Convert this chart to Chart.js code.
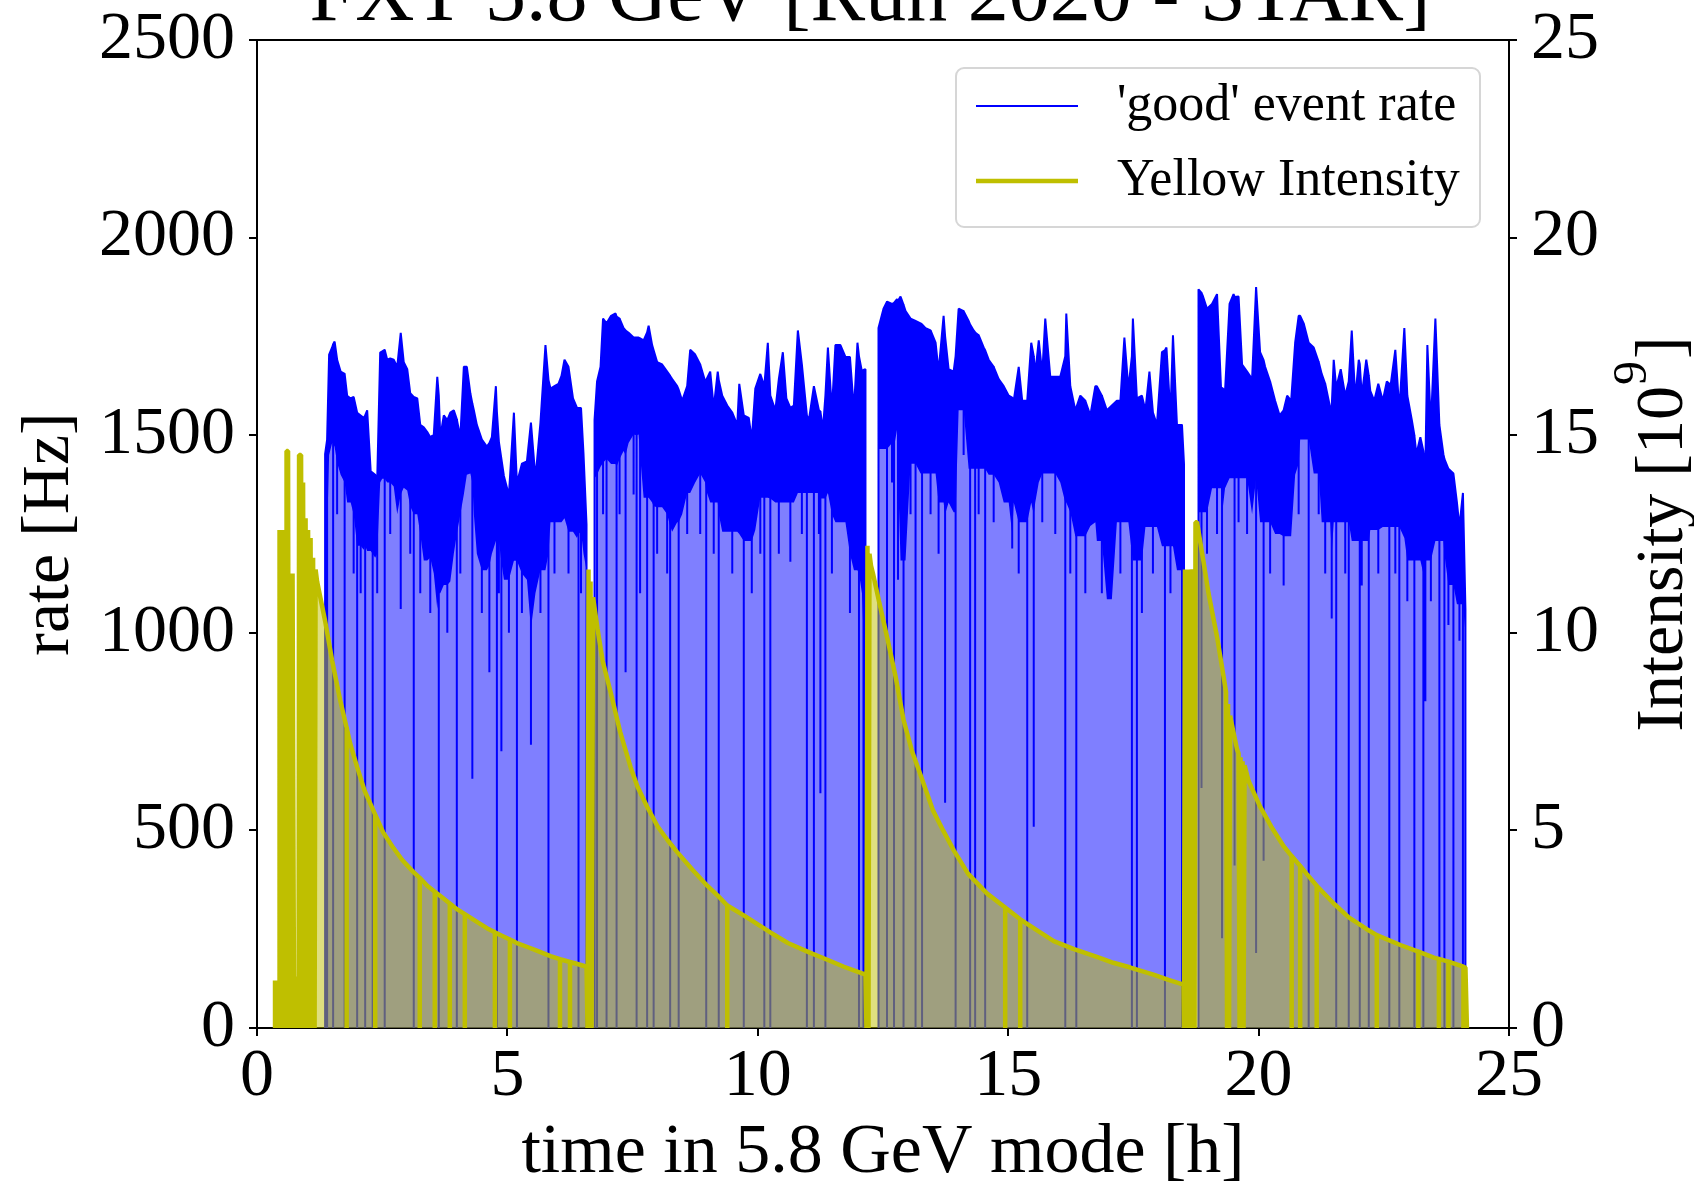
<!DOCTYPE html>
<html><head><meta charset="utf-8">
<script src="https://cdn.jsdelivr.net/npm/chart.js@4.4.1/dist/chart.umd.min.js"></script>
<style>html,body{margin:0;padding:0;background:#fff;}canvas{display:block;}</style>
</head><body>
<canvas id="c" width="1694" height="1189"></canvas>
<script>
// ---------- 'good' event rate [Hz]: per fill, time [h], upper and lower edge of the noisy band ----------
const fill1Time = [1.36,1.40,1.44,1.50,1.52,1.55,1.60,1.67,1.75,1.80,
1.87,1.93,2.00,2.07,2.13,2.16,2.20,2.27,2.31,2.36,
2.40,2.46,2.50,2.55,2.60,2.66,2.73,2.80,2.87,2.93,
3.00,3.06,3.13,3.20,3.26,3.33,3.40,3.46,3.53,3.60,
3.63,3.66,3.73,3.80,3.86,3.93,3.99,4.06,4.13,4.19,
4.26,4.30,4.33,4.39,4.49,4.59,4.64,4.69,4.77,4.79,
4.83,4.88,4.93,5.03,5.13,5.19,5.29,5.39,5.47,5.56,
5.66,5.76,5.82,5.86,5.94,6.02,6.08,6.14,6.22,6.31,
6.39,6.42,6.47,6.52,6.58];
const fill1Upper = [1452,1489,1704,1722,1730,1737,1691,1661,1655,1600,
1593,1597,1557,1550,1544,1550,1563,1409,1405,1400,
1385,1709,1712,1716,1691,1694,1691,1673,1759,1685,
1667,1606,1597,1593,1526,1520,1508,1495,1501,1648,
1600,1495,1550,1538,1557,1563,1540,1495,1673,1673,
1606,1580,1563,1526,1489,1471,1480,1495,1624,1560,
1483,1440,1397,1348,1557,1379,1428,1434,1532,1391,
1532,1728,1640,1618,1624,1630,1650,1691,1673,1593,
1569,1569,1569,1452,1274];
const fill1Lower = [1200,1250,1450,1480,1480,1470,1430,1400,1380,1330,
1330,1300,1220,1220,1210,1220,1207,1207,1200,1190,
1200,1380,1390,1390,1380,1380,1370,1300,1350,1367,
1360,1320,1300,1300,1250,1183,1183,1190,1150,1060,
1100,1100,1121,1121,1130,1200,1250,1300,1350,1400,
1403,1380,1300,1200,1158,1158,1170,1200,1232,1220,
1232,1180,1134,1134,1182,1182,1150,1134,1011,1100,
1158,1158,1200,1280,1280,1280,1280,1290,1256,1256,
1240,1250,1256,1200,1158];

const fill2Time = [6.74,6.79,6.86,6.91,6.98,7.07,7.16,7.18,7.24,7.32,
7.36,7.42,7.52,7.58,7.62,7.65,7.72,7.79,7.82,7.89,
7.92,7.99,8.09,8.19,8.25,8.29,8.39,8.42,8.49,8.59,
8.65,8.75,8.85,8.95,8.97,9.05,9.12,9.20,9.22,9.29,
9.39,9.49,9.59,9.63,9.72,9.82,9.88,9.95,10.05,10.13,
10.20,10.25,10.35,10.42,10.50,10.57,10.65,10.72,10.80,10.88,
10.98,11.02,11.12,11.22,11.25,11.30,11.35,11.40,11.48,11.55,
11.65,11.75,11.84,11.92,11.99,12.02,12.08,12.11,12.15];
const fill2Upper = [1538,1636,1673,1795,1783,1802,1808,1800,1795,1771,
1765,1759,1747,1747,1747,1745,1740,1760,1777,1728,
1715,1685,1679,1661,1650,1642,1624,1615,1587,1624,
1716,1704,1679,1636,1640,1661,1569,1661,1640,1600,
1575,1557,1526,1630,1550,1544,1489,1618,1655,1624,
1734,1600,1563,1642,1710,1593,1569,1575,1765,1679,
1550,1538,1624,1563,1560,1514,1600,1722,1563,1728,
1728,1698,1698,1563,1734,1700,1661,1665,1667];
const fill2Lower = [1391,1400,1420,1430,1440,1427,1427,1420,1440,1460,
1450,1480,1502,1500,1502,1450,1342,1342,1342,1330,
1320,1318,1318,1300,1270,1256,1280,1280,1300,1354,
1354,1380,1403,1380,1360,1330,1330,1330,1300,1256,
1256,1256,1256,1250,1232,1232,1232,1260,1342,1342,
1342,1340,1330,1330,1330,1330,1330,1330,1354,1354,
1354,1354,1354,1354,1340,1340,1340,1354,1300,1280,
1280,1280,1200,1158,1158,1150,1100,1000,937];

const fill3Time = [12.41,12.51,12.58,12.68,12.72,12.78,12.80,12.85,12.91,12.95,
13.05,13.15,13.25,13.28,13.35,13.45,13.55,13.61,13.71,13.74,
13.81,13.91,13.95,14.01,14.11,14.21,14.24,14.31,14.34,14.41,
14.51,14.54,14.61,14.71,14.81,14.91,15.01,15.08,15.11,15.21,
15.28,15.38,15.46,15.51,15.54,15.61,15.68,15.74,15.84,15.94,
16.04,16.14,16.16,16.24,16.34,16.36,16.44,16.54,16.64,16.74,
16.77,16.87,16.97,17.07,17.17,17.24,17.32,17.40,17.47,17.49,
17.57,17.67,17.74,17.82,17.89,17.97,18.07,18.13,18.16,18.24,
18.29,18.37,18.47,18.51];
const fill3Upper = [1771,1820,1838,1832,1835,1844,1840,1851,1830,1814,
1795,1789,1783,1780,1771,1765,1734,1661,1802,1750,
1667,1661,1700,1820,1814,1789,1780,1765,1760,1753,
1722,1715,1691,1673,1642,1624,1600,1595,1587,1673,
1587,1587,1734,1700,1655,1740,1655,1795,1648,1648,
1648,1700,1808,1624,1563,1570,1600,1587,1550,1624,
1624,1600,1563,1575,1587,1587,1747,1618,1700,1795,
1593,1600,1563,1661,1557,1526,1710,1715,1722,1550,
1753,1526,1526,1428];
const fill3Lower = [1465,1465,1465,1480,1470,1514,1400,1183,1183,1183,
1428,1428,1403,1403,1403,1403,1403,1330,1330,1300,
1330,1305,1305,1563,1563,1415,1415,1415,1415,1415,
1415,1415,1400,1400,1380,1330,1330,1250,1330,1280,
1280,1280,1330,1300,1330,1380,1403,1403,1403,1403,
1380,1330,1330,1305,1244,1244,1244,1244,1270,1280,
1232,1232,1085,1085,1280,1280,1280,1280,1200,1183,
1183,1183,1268,1268,1268,1268,1219,1219,1219,1219,
1219,1158,1158,1158];

const fill4Time = [18.80,18.86,18.89,18.97,19.07,19.17,19.25,19.27,19.33,19.42,
19.50,19.52,19.60,19.67,19.77,19.87,19.95,20.03,20.10,20.13,
20.23,20.33,20.42,20.50,20.57,20.65,20.73,20.80,20.83,20.90,
21.00,21.10,21.20,21.26,21.33,21.43,21.46,21.50,21.55,21.64,
21.73,21.80,21.86,21.93,22.00,22.02,22.06,22.15,22.20,22.23,
22.31,22.39,22.48,22.56,22.61,22.64,22.73,22.81,22.91,22.97,
23.06,23.11,23.15,23.23,23.29,23.31,23.33,23.37,23.44,23.53,
23.61,23.69,23.71,23.79,23.89,23.96,24.01,24.08,24.13];
const fill4Upper = [1869,1860,1851,1820,1832,1857,1618,1620,1612,1832,
1857,1850,1851,1679,1661,1642,1875,1710,1690,1673,
1636,1587,1550,1563,1600,1587,1734,1802,1802,1783,
1734,1722,1685,1655,1630,1569,1570,1691,1620,1667,
1600,1636,1765,1593,1691,1680,1600,1691,1650,1612,
1587,1630,1587,1636,1630,1630,1716,1563,1771,1600,
1538,1500,1452,1495,1460,1428,1420,1728,1526,1795,
1526,1452,1440,1415,1403,1330,1268,1354,1060];
const fill4Lower = [1305,1305,1305,1305,1366,1366,1366,1300,1366,1391,
1391,1391,1391,1391,1391,1300,1391,1280,1280,1280,
1280,1250,1250,1244,1244,1244,1400,1428,1489,1489,
1489,1403,1403,1280,1280,1280,1200,1280,1280,1280,
1280,1280,1232,1232,1232,1232,1232,1232,1232,1260,
1260,1260,1268,1268,1268,1268,1268,1268,1240,1183,
1183,1183,1183,1183,1150,1183,1183,1183,1183,1232,
1232,1232,1200,1121,1121,1072,1072,1072,1000];

// rate dropouts: time [h] and the level [Hz] the rate fell to
const dropTime = [1.36,1.40,1.52,1.75,2.00,2.16,2.31,2.55,2.87,3.13,3.26,3.63,3.99,4.30,4.64,4.79,4.88,5.19,5.47,5.82,6.42,6.58,
6.74,6.79,6.98,7.18,7.36,7.58,7.65,7.79,7.92,8.25,8.42,8.97,9.22,9.72,10.13,10.25,10.98,11.12,11.25,11.35,12.02,12.11,12.15,
12.41,12.58,12.72,12.80,12.91,13.15,13.28,13.74,13.95,14.24,14.34,14.54,15.08,15.38,15.51,16.14,16.36,17.47,17.57,18.13,18.47,18.51,
18.80,18.86,19.27,19.52,19.95,20.10,21.00,21.46,21.55,21.80,22.02,22.20,22.61,22.81,23.11,23.29,23.33,23.61,23.71,23.89,24.08,24.13];
const dropLevel = [0,0,0,0,0,0,0,0,1060,0,1100,0,0,631,900,0,700,0,717,0,0,0,
0,0,0,0,900,0,1100,0,0,0,0,0,0,0,0,0,0,0,594,0,0,0,0,
0,0,0,1134,0,0,0,570,0,0,0,0,1213,0,509,0,0,0,0,0,0,0,
0,607,227,411,190,423,0,1036,0,0,0,0,0,0,0,0,827,0,0,0,0,0];
// short downward spikes below the dense band
const spikeTime = [1.60,1.93,2.07,2.40,2.66,3.06,3.46,3.80,4.06,4.49,4.83,5.03,5.29,5.66,5.94,6.22,6.47,
6.91,7.24,7.52,7.99,8.19,8.59,8.85,9.12,9.49,9.88,10.05,10.42,10.65,10.88,11.22,11.48,11.84,
12.68,13.05,13.45,13.61,14.11,14.41,14.71,15.21,15.68,15.94,16.24,16.54,16.87,17.24,17.67,17.89,18.24,
18.97,19.17,19.60,19.77,20.23,20.50,20.80,21.20,21.33,21.73,22.06,22.39,22.73,22.97,23.44,23.79,24.01];
const spikeLevel = [1300,1150,1100,1100,1250,1200,1050,1000,1150,1050,1100,1000,1050,1050,1150,1150,1100,
1300,1300,1350,1200,1150,1250,1250,1200,1150,1100,1200,1200,1180,1250,1250,1150,1050,
1380,1300,1300,1200,1450,1300,1280,1150,1280,1250,1150,1100,1100,1150,1050,1150,1100,
1200,1250,1280,1250,1150,1120,1300,1300,1150,1150,1120,1150,1150,1080,1080,1020,980];

// ---------- Yellow Intensity [10^9]: [time h, intensity] ----------
const intensityFill1 = [
[0.36,0],[0.36,1.2],[0.39,0],[0.41,1.2],[0.44,0],[0.45,1.2],[0.45,12.6],[0.48,0],[0.50,12.6],[0.53,0],
[0.55,12.6],[0.58,0],[0.59,14.6],[0.62,14.6],[0.64,0],[0.66,11.5],[0.69,0],[0.71,11.5],[0.74,0],[0.76,1.3],
[0.79,0],[0.81,1.3],[0.83,0],[0.84,14.5],[0.88,14.5],[0.90,0],[0.92,13.8],[0.95,0],[0.97,12.9],[1.00,0],
[1.02,12.6],[1.05,0],[1.07,12.4],[1.10,0],[1.12,11.9],[1.15,0],[1.17,11.6],[1.20,11.3],[1.28,10.8],[1.36,10.3],
[1.50,9.3],[1.66,8.3],[1.79,7.6],[1.79,0],[1.79,7.6],[1.86,7.2],[2.00,6.6],[2.15,6.0],[2.36,5.4],[2.36,0],
[2.36,5.4],[2.52,4.95],[2.70,4.6],[2.90,4.25],[3.12,3.95],[3.25,3.8],[3.25,0],[3.25,3.8],[3.40,3.6],[3.55,3.45],
[3.55,0],[3.55,3.45],[3.70,3.3],[3.85,3.15],[3.85,0],[3.85,3.15],[4.00,3.0],[4.15,2.88],[4.15,0],[4.15,2.88],
[4.40,2.68],[4.60,2.52],[4.75,2.42],[4.75,0],[4.75,2.42],[4.90,2.33],[5.05,2.24],[5.05,0],[5.05,2.24],[5.19,2.15],
[5.40,2.05],[5.60,1.95],[5.86,1.82],[6.05,1.74],[6.05,0],[6.05,1.74],[6.25,1.67],[6.25,0],[6.25,1.67],[6.40,1.62],
[6.58,1.55]];
const intensityFill2 = [
[6.60,0],[6.62,11.6],[6.64,0],[6.66,11.3],[6.68,0],[6.71,10.9],[6.80,10.1],[6.90,9.3],[7.06,8.5],[7.25,7.5],
[7.46,6.6],[7.60,6.1],[7.79,5.6],[8.00,5.1],[8.20,4.75],[8.39,4.45],[8.70,4.0],[8.99,3.6],[9.20,3.35],[9.39,3.1],
[9.39,0],[9.39,3.1],[9.72,2.85],[10.00,2.62],[10.25,2.42],[10.60,2.15],[11.05,1.9],[11.40,1.72],[11.72,1.55],[12.00,1.42],
[12.15,1.35]];
const intensityFill3 = [
[12.17,0],[12.19,12.2],[12.21,0],[12.23,12.0],[12.26,11.7],[12.30,11.5],[12.42,10.8],[12.58,9.9],[12.75,8.9],[12.91,7.8],
[13.08,7.0],[13.25,6.4],[13.50,5.5],[13.70,5.0],[13.91,4.5],[14.20,3.9],[14.58,3.4],[14.94,3.05],[14.94,0],[14.94,3.05],
[15.24,2.75],[15.24,0],[15.24,2.75],[15.60,2.45],[15.91,2.2],[16.30,2.0],[16.77,1.8],[17.10,1.65],[17.44,1.53],[17.90,1.35],
[18.20,1.22],[18.50,1.1]];
const intensityFill4 = [
[18.51,0],[18.53,11.6],[18.55,0],[18.57,11.6],[18.59,0],[18.61,11.6],[18.63,0],[18.65,11.6],[18.71,11.3],[18.72,0],
[18.74,12.8],[18.77,12.8],[18.90,11.8],[19.00,11.0],[19.17,9.9],[19.30,8.9],[19.35,8.5],[19.37,0],[19.39,8.2],[19.41,0],
[19.43,7.9],[19.57,7.05],[19.60,6.95],[19.62,0],[19.64,6.85],[19.66,0],[19.68,6.75],[19.70,0],[19.72,6.65],[19.80,6.25],
[20.03,5.6],[20.25,5.1],[20.50,4.6],[20.66,4.35],[20.66,0],[20.66,4.35],[20.83,4.1],[20.83,0],[20.83,4.1],[20.96,3.9],
[21.16,3.6],[21.16,0],[21.16,3.6],[21.50,3.15],[21.80,2.8],[22.16,2.5],[22.36,2.35],[22.36,0],[22.36,2.35],[22.83,2.1],
[23.19,1.93],[23.19,0],[23.19,1.93],[23.50,1.78],[23.60,1.75],[23.60,0],[23.60,1.75],[23.79,1.68],[23.79,0],[23.79,1.68],
[24.09,1.55],[24.09,0],[24.09,1.55],[24.13,1.53],[24.16,0]];

// ---------- labels ----------
const titleText = 'FXT 5.8 GeV [Run 2020 - STAR]';
const xTitle = 'time in 5.8 GeV mode [h]';
const yTitle = 'rate [Hz]';
const y1TitleMain = 'Intensity [10';
const y1TitleSup = '9';
const y1TitleEnd = ']';
const rateLabel = "'good' event rate";
const intensityLabel = 'Yellow Intensity';

// ---------- build datasets ----------
const dropMap = new Map(dropTime.map((t, i) => [t.toFixed(2), dropLevel[i]]));
spikeTime.forEach((t, i) => { if (!dropMap.has(t.toFixed(2))) dropMap.set(t.toFixed(2), spikeLevel[i]); });
const fills = [
  [fill1Time, fill1Upper, fill1Lower],
  [fill2Time, fill2Upper, fill2Lower],
  [fill3Time, fill3Upper, fill3Lower],
  [fill4Time, fill4Upper, fill4Lower]
];
const rateData = [], bandData = [];
fills.forEach(([T, U, L], k) => {
  for (let i = 0; i < T.length; i++) {
    rateData.push({x: T[i], y: U[i]});
    const d = dropMap.get(T[i].toFixed(2));
    if (d !== undefined) { rateData.push({x: T[i], y: d}); rateData.push({x: T[i], y: U[i]}); }
    bandData.push({x: T[i], y: L[i]});
  }
  if (k < fills.length - 1) {
    const tEnd = T[T.length - 1];
    rateData.push({x: tEnd, y: null});
    bandData.push({x: tEnd, y: null});
  }
});
const intensityData = [...intensityFill1, ...intensityFill2, ...intensityFill3, ...intensityFill4]
  .map(([x, y]) => ({x, y}));

// ---------- chart ----------
const SERIF = '"Liberation Serif", "Times New Roman", Times, serif';
Chart.defaults.font.family = SERIF;
Chart.defaults.color = '#000';
const xTickFont = {family: SERIF, size: 68, lineHeight: 1.2};
const yTickFont = {family: SERIF, size: 68, lineHeight: 0.5};
const axisGrid = {display: true, drawOnChartArea: false, drawTicks: true, tickLength: 8, color: '#000', lineWidth: 2};
const axisBorder = {display: true, color: '#000', width: 2};
const plainNumber = (v) => String(v);

const decor = {
  id: 'decor',
  afterLayout(chart) {
    const ca = chart.chartArea;
    const lg = chart.legend;
    if (lg) {
      const w = lg.width, h = lg.height;
      lg.left = ca.left + 696;
      lg.top = ca.top + 17;
      lg.right = lg.left + w;
      lg.bottom = lg.top + h;
    }
    const tb = chart.titleBlock;
    if (tb) { tb.left = ca.left - 26; tb.right = ca.right; tb.width = tb.right - tb.left; }
  },
  beforeDraw(chart) {
    const ctx = chart.ctx;
    ctx.save();
    ctx.fillStyle = '#fff';
    ctx.fillRect(0, 0, chart.width, chart.height);
    const lg = chart.legend;
    const x = lg.left + 3, y = lg.top + 11, w = 524, h = 159, r = 8;
    ctx.beginPath();
    ctx.moveTo(x + r, y);
    ctx.arcTo(x + w, y, x + w, y + h, r);
    ctx.arcTo(x + w, y + h, x, y + h, r);
    ctx.arcTo(x, y + h, x, y, r);
    ctx.arcTo(x, y, x + w, y, r);
    ctx.closePath();
    ctx.fillStyle = '#fff';
    ctx.fill();
    ctx.strokeStyle = '#d6d6d6';
    ctx.lineWidth = 2;
    ctx.stroke();
    ctx.restore();
  },
  afterDraw(chart) {
    const ctx = chart.ctx, ca = chart.chartArea;
    ctx.save();
    ctx.translate(ca.right + 173, (ca.top + ca.bottom) / 2);
    ctx.rotate(-Math.PI / 2);
    ctx.fillStyle = '#000';
    ctx.textBaseline = 'alphabetic';
    ctx.textAlign = 'left';
    const main = '68px ' + SERIF, sup = '48px ' + SERIF;
    ctx.font = main;
    const w1 = ctx.measureText(y1TitleMain).width, w3 = ctx.measureText(y1TitleEnd).width;
    ctx.font = sup;
    const w2 = ctx.measureText(y1TitleSup).width;
    let x = -(w1 + w2 + w3 + 3) / 2;
    ctx.font = main; ctx.fillText(y1TitleMain, x, 0); x += w1 + 1;
    ctx.font = sup; ctx.fillText(y1TitleSup, x, -36); x += w2 + 2;
    ctx.font = main; ctx.fillText(y1TitleEnd, x, 0);
    ctx.restore();
  }
};

new Chart(document.getElementById('c'), {
  type: 'line',
  data: {
    datasets: [
      {label: rateLabel, data: rateData, xAxisID: 'x', yAxisID: 'y',
       borderColor: '#0000ff', borderWidth: 2, backgroundColor: 'rgba(0,0,255,0.5)',
       fill: 'origin', pointRadius: 0, tension: 0, borderJoinStyle: 'bevel', order: 3},
      {label: 'band', data: bandData, xAxisID: 'x', yAxisID: 'y',
       borderColor: 'rgba(0,0,255,0)', borderWidth: 0, backgroundColor: '#0000ff',
       fill: '-1', pointRadius: 0, tension: 0, order: 2},
      {label: intensityLabel, data: intensityData, xAxisID: 'x', yAxisID: 'y1',
       borderColor: '#bfbf00', borderWidth: 4.5, backgroundColor: 'rgba(191,191,0,0.5)',
       fill: 'origin', pointRadius: 0, tension: 0, borderJoinStyle: 'bevel', order: 1}
    ]
  },
  plugins: [decor],
  options: {
    responsive: false,
    animation: false,
    devicePixelRatio: 1,
    events: [],
    layout: {padding: {top: -43, left: 0, right: 0, bottom: 0}, autoPadding: false},
    plugins: {
      tooltip: {enabled: false},
      title: {display: true, text: titleText, fullSize: false, color: '#000', padding: 0,
              font: {family: SERIF, size: 82, lineHeight: 1.0, weight: 'normal'}},
      legend: {
        display: true, position: 'chartArea', align: 'start',
        labels: {
          usePointStyle: true, pointStyle: 'line', pointStyleWidth: 102,
          font: {family: SERIF, size: 52}, color: '#000', padding: 23,
          generateLabels: (chart) => Chart.defaults.plugins.legend.labels.generateLabels(chart)
            .map((item) => Object.assign(item, {text: ' ' + item.text})),
          filter: (item) => item.datasetIndex !== 1,
          sort: (a, b) => a.datasetIndex - b.datasetIndex
        }
      }
    },
    scales: {
      x: {type: 'linear', position: 'bottom', min: 0, max: 25, z: 1,
          ticks: {stepSize: 5, font: xTickFont, color: '#000', padding: 0, maxRotation: 0, autoSkip: false, callback: plainNumber},
          grid: axisGrid, border: axisBorder,
          title: {display: true, text: xTitle, color: '#000', padding: {top: 0, bottom: 0},
                  font: {family: SERIF, size: 70, lineHeight: 1.0}},
          afterFit: (s) => { s.height = 161; }},
      xTop: {type: 'linear', position: 'top', min: 0, max: 25, z: 1,
          ticks: {display: false},
          grid: {display: true, drawOnChartArea: false, drawTicks: false},
          border: axisBorder,
          afterFit: (s) => { s.height = 1; }},
      y: {type: 'linear', position: 'left', min: 0, max: 2500, z: 1,
          ticks: {stepSize: 500, font: yTickFont, color: '#000', padding: 14, callback: plainNumber},
          grid: axisGrid, border: axisBorder,
          title: {display: true, text: yTitle, color: '#000', padding: {top: 9, bottom: 0},
                  font: {family: SERIF, size: 68, lineHeight: 1.2}},
          afterFit: (s) => { s.width = 257; }},
      y1: {type: 'linear', position: 'right', min: 0, max: 25, z: 1,
          ticks: {stepSize: 5, font: yTickFont, color: '#000', padding: 14, callback: plainNumber},
          grid: axisGrid, border: axisBorder,
          afterFit: (s) => { s.width = 185; }}
    }
  }
});
</script>
</body></html>
